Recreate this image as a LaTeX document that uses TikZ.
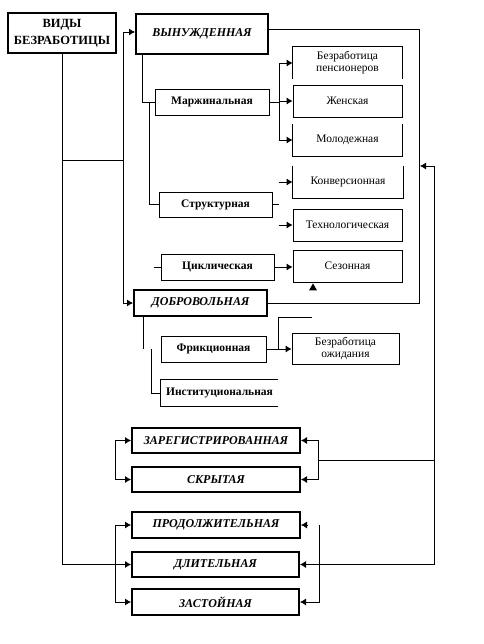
\documentclass[tikz,border=0pt]{standalone}
\usepackage{fontspec}
\setmainfont{Liberation Serif}
\usetikzlibrary{arrows.meta}
\tikzset{
  box/.style={draw, line width=0.8pt, inner sep=1pt, align=center, font=\fontsize{11.5}{12}\selectfont},
  openbox/.style={box, draw=none},
  subbox/.style={box, font=\bfseries\fontsize{11.5}{12}\selectfont},
  kindbox/.style={box, line width=2pt, font=\bfseries\itshape\fontsize{12}{13}\selectfont},
  link/.style={line width=0.8pt},
  arr/.style={-{Latex[length=6pt,width=7pt]}},
  both/.style={{Latex[length=6pt,width=7pt]}-{Latex[length=6pt,width=7pt]}},
}
\begin{document}
\begin{tikzpicture}[x=1pt,y=-1pt]
\useasboundingbox (0,0) rectangle (483,644);
\node[kindbox, minimum width=108, minimum height=40, font=\bfseries\fontsize{12.5}{17}\selectfont] (vidy) at (62,33) {ВИДЫ\\БЕЗРАБОТИЦЫ};
\node[kindbox, minimum width=132, minimum height=40] (vyn) at (202,34) {ВЫНУЖДЕННАЯ};
\node[openbox, minimum width=109, minimum height=32] (pens) at (347.5,63) {Безработица\\пенсионеров};
\node[box, minimum width=109, minimum height=32] (zhen) at (347.5,101) {Женская};
\node[openbox, minimum width=109, minimum height=32] (molod) at (347.5,140) {Молодежная};
\node[subbox, minimum width=114, minimum height=26] (marg) at (212,102) {Маржинальная};
\node[openbox, minimum width=110, minimum height=32] (konv) at (348,182) {Конверсионная};
\node[box, minimum width=109, minimum height=32] (tech) at (347.5,225) {Технологическая};
\node[box, minimum width=109, minimum height=32] (sez) at (347.5,266) {Сезонная};
\node[subbox, minimum width=113, minimum height=25] (strukt) at (215.5,204.5) {Структурная};
\node[subbox, minimum width=113, minimum height=26] (cikl) at (217.5,267) {Циклическая};
\node[kindbox, minimum width=133, minimum height=26] (dobr) at (200.5,303) {ДОБРОВОЛЬНАЯ};
\node[subbox, minimum width=105, minimum height=26] (frik) at (213.5,349) {Фрикционная};
\node[box, minimum width=107, minimum height=31] (ozhid) at (345.5,348.5) {Безработица\\ожидания};
\node[subbox, draw=none, minimum width=117, minimum height=26] (inst) at (219.5,393) {Институциональная};
\node[kindbox, minimum width=168, minimum height=25] (zareg) at (216,440.5) {ЗАРЕГИСТРИРОВАННАЯ};
\node[kindbox, minimum width=168, minimum height=25] (skryt) at (216,479.5) {СКРЫТАЯ};
\node[kindbox, minimum width=168, minimum height=26] (prod) at (216,525) {ПРОДОЛЖИТЕЛЬНАЯ};
\node[kindbox, minimum width=167, minimum height=25] (dlit) at (215.5,564.5) {ДЛИТЕЛЬНАЯ};
\node[kindbox, minimum width=167, minimum height=26] (zast) at (215.5,602) {ЗАСТОЙНАЯ};
\draw[link] (pens.south west) -- (pens.north west) -- (pens.north east) -- (pens.south east);
\foreach \n in {molod,konv}
\draw[link] (\n.north west) -- (\n.south west) -- (\n.south east) -- (\n.north east);
\draw[link] (inst.north east) -- (inst.north west) -- (inst.south west) -- (inst.south east);
\coordinate (split) at (123,160);
\draw[link,arr] (vidy.south) |- (dlit.west);
\draw[link] (vidy.south |- split) -- (split);
\draw[link,arr] (split) |- ([yshift=2pt]vyn.west);
\draw[link,arr] (split) |- (dobr.west);
\draw[link] ([xshift=7pt]vyn.south west) |- (marg.west);
\draw[link] ([xshift=-5pt]marg.west) |- (strukt.west);
\coordinate (mj) at ([xshift=10pt]marg.east);
\draw[link] (marg.east) -- (mj);
\foreach \n in {pens,zhen,molod}
\draw[link,arr] (mj) |- (\n.west);
\draw[link] (strukt.east) -- ++(7,0);
\foreach \n in {konv,tech}
\draw[link,arr] ([xshift=-14pt]\n.west) -- (\n.west);
\draw[link] (cikl.west) -- ++(-7,0);
\draw[link,arr] (cikl.east) -- (cikl.east -| sez.west);
\coordinate (tip) at ([xshift=-34.5pt,yshift=-1pt]sez.south);
\fill (tip) -- ++(-4,7) -- ++(8,0) -- cycle;
\draw[link] ([yshift=5pt]vyn.east) -- ++(150,0) |- (dobr.east);
\coordinate (rr) at (434,166);
\draw[link,arr] (rr) -- ++(-14,0);
\draw[link,arr] (rr) |- (dlit.east);
\draw[link] ([xshift=10pt]dobr.south west) -- ++(0,32);
\draw[link] ([xshift=-9pt]frik.west) |- (inst.west);
\draw[link,arr] (frik.east) -- (frik.east -| ozhid.west);
\draw[link] ([xshift=12pt]frik.east) -- ++(0,-32) -- ++(34,0);
\coordinate (zs) at (318,460);
\draw[link] (zs) -- (zs -| rr);
\draw[link,arr] (zs) |- (zareg.east);
\draw[link,arr] (zs) |- (skryt.east);
\draw[link,both] (zareg.west) -- ++(-16,0) |- (skryt.west);
\draw[link,both] (prod.west) -- ++(-16,0) |- (zast.west);
\draw[link,arr] ([xshift=6pt]prod.east) -- (prod.east);
\draw[link,arr] ([xshift=18pt]prod.east) |- (zast.east);
\end{tikzpicture}
\end{document}
